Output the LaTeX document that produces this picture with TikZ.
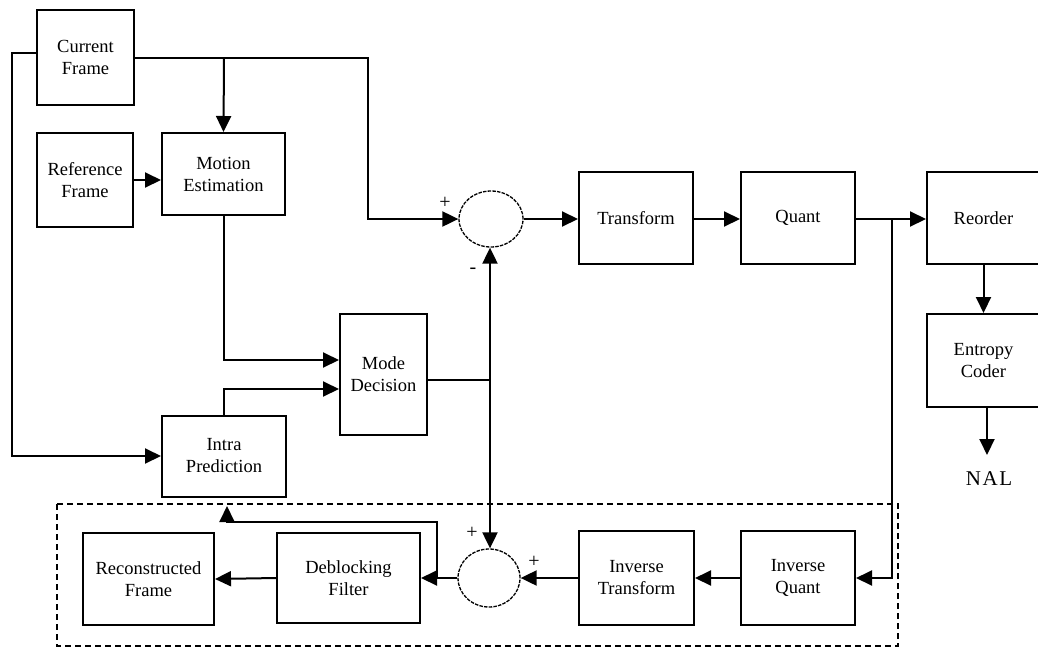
\documentclass[tikz,border=0pt]{standalone}
\usepackage{fontspec}
\setmainfont{Liberation Serif}
\usetikzlibrary{arrows.meta,shapes.geometric}
\begin{document}
\begin{tikzpicture}[x=1pt,y=-1pt,
  line width=2pt,
  >={Triangle[length=16pt,width=15pt]},
  blk/.style={draw,rectangle,align=center,inner sep=0pt,
    font=\fontsize{18.5}{22}\selectfont},
  summer/.style={draw,ellipse,inner sep=0pt,line width=1.3pt,
    dash pattern=on 3.5pt off 1.2pt},
  sign/.style={font=\fontsize{20}{20}\selectfont,inner sep=0pt}]
\useasboundingbox (0,0) rectangle (1038,648);

% processing blocks
\node[blk,minimum width=97pt,minimum height=95pt]  (cur)   at (85.5,57.5) {Current\\Frame};
\node[blk,minimum width=96pt,minimum height=94pt]  (ref)   at (85,180)    {Reference\\Frame};
\node[blk,minimum width=123pt,minimum height=82pt] (me)    at (223.5,174) {Motion\\Estimation};
\node[blk,minimum width=87pt,minimum height=121pt] (md)    at (383.5,374.5) {Mode\\Decision};
\node[blk,minimum width=124pt,minimum height=81pt] (intra) at (224,456)   {Intra\\Prediction};
\node[blk,minimum width=114pt,minimum height=92pt] (tr)    at (636,218)   {Transform};
\node[blk,minimum width=114pt,minimum height=92pt] (q)     at (798,218)   {Quant};
\node[blk,minimum width=113pt,minimum height=92pt] (reo)   at (983.5,218) {Reorder};
\node[blk,minimum width=113pt,minimum height=93pt] (ent)   at (983.5,360.5) {Entropy\\Coder};
\node[font=\fontsize{21}{21}\selectfont\addfontfeature{LetterSpace=8},inner sep=0pt] (nal) at (989,479) {NAL};

% reconstruction loop
\node[blk,minimum width=131pt,minimum height=92pt] (rec) at (148.5,579) {Reconstructed\\Frame};
\node[blk,minimum width=143pt,minimum height=90pt] (db)  at (348.5,578) {Deblocking\\Filter};
\node[blk,minimum width=115pt,minimum height=94pt] (itr) at (636.5,578) {Inverse\\Transform};
\node[blk,minimum width=114pt,minimum height=94pt] (iq)  at (798,578)   {Inverse\\Quant};

% adders
\node[summer,minimum width=64pt,minimum height=56pt] (s1) at (491,219) {};
\node[summer,minimum width=62pt,minimum height=58pt] (s2) at (489,578) {};

\node[sign] (p1) at (445,203) {+};
\node[sign] (m1) at (473,271) {-};
\node[sign] (p2) at (472,533) {+};
\node[sign] (p3) at (534,562) {+};

% dashed frame round the loop
\draw[line width=1.6pt,dash pattern=on 6pt off 4pt] (57,504) rectangle (898,646);

% junction points
\coordinate (cr)  at (368,58);
\coordinate (cb)  at (224,58);
\coordinate (cl)  at (12,53);
\coordinate (mdj) at (490,380);
\coordinate (qj)  at (892,219);
\coordinate (fb)  at (437,578);
\coordinate (fbt) at (437,522);
\coordinate (ip)  at (227,506);
\coordinate (nalt) at (987,455);

% forward path
\draw[->] (cur.east |- cr) -- (cr) |- (s1.west);
\draw[->] (cb) -- (me.north);
\draw[->] (cur.west |- cl) -- (cl) |- (intra.west);
\draw[->] (ref.east) -- (ref.east -| me.west);
\draw[->] (me.south) |- (md.west |- 0,360);
\draw[->] (intra.north) |- (md.west |- 0,389);
\draw (md.east |- mdj) -- (mdj);
\draw[->] (mdj) -- (mdj |- s1.south);
\draw[->] (mdj) -- (mdj |- s2.north);
\draw[->] (s1.east) -- (tr.west |- s1.east);
\draw[->] (tr.east |- s1.east) -- (q.west |- s1.east);
\draw[->] (q.east |- s1.east) -- (reo.west |- s1.east);
\draw[->] (qj) |- (iq.east);
\draw[->] (reo.south) -- (ent.north);
\draw[->] (ent.south -| nalt) -- (nalt);

% reconstruction path
\draw[->] (iq.west) -- (itr.east);
\draw[->] (itr.west) -- (s2.east);
\draw[->] (s2.west) -- (db.east);
\draw[->] (fb) -- (fbt) -| (ip);
\draw[->] (db.west) -- (rec.east);
\end{tikzpicture}
\end{document}
